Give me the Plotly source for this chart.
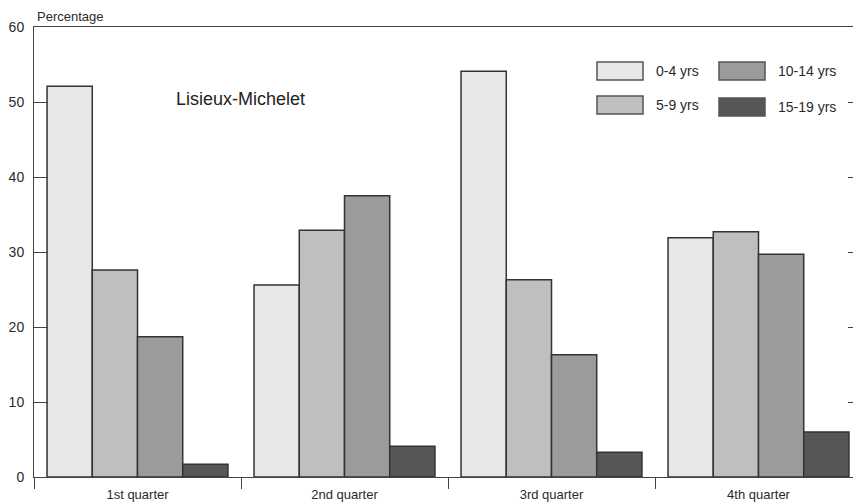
import plotly.graph_objects as go

categories = ["1st quarter", "2nd quarter", "3rd quarter", "4th quarter"]
series_names = ["0-4 yrs", "5-9 yrs", "10-14 yrs", "15-19 yrs"]
values_0_4 = [52.1, 25.6, 54.1, 31.9]
values_5_9 = [27.6, 32.9, 26.3, 32.7]
values_10_14 = [18.7, 37.5, 16.3, 29.7]
values_15_19 = [1.7, 4.1, 3.3, 6.0]
colors = ["#e8e8e8", "#bfbfbf", "#9b9b9b", "#565656"]
y_ticks = [0, 10, 20, 30, 40, 50, 60]

FONT = "Liberation Sans, Arial, sans-serif"
all_values = [values_0_4, values_5_9, values_10_14, values_15_19]

fig = go.Figure()
for name, vals, col in zip(series_names, all_values, colors):
    fig.add_trace(go.Bar(
        x=categories, y=vals, name=name, showlegend=False,
        marker=dict(color=col, line=dict(color="#333333", width=1.5)),
    ))

# second y axis for short right-side ticks
fig.add_trace(go.Scatter(x=[categories[0]], y=[0], yaxis="y2", mode="markers",
                         marker=dict(opacity=0), showlegend=False, hoverinfo="skip"))

fig.update_layout(
    width=853, height=504,
    margin=dict(l=34, r=0, t=27, b=27),
    paper_bgcolor="white", plot_bgcolor="white",
    barmode="group", bargap=0.126, bargroupgap=0,
    font=dict(family=FONT, size=13, color="#2a2a2a"),
    xaxis=dict(
        type="category", range=[-0.5, -0.5 + 819 / 207],
        showline=True, linecolor="#444444", linewidth=1, mirror=True,
        ticks="outside", tickson="boundaries", ticklen=11, tickcolor="#444444",
        showgrid=False, ticklabelstandoff=5,
        tickfont=dict(size=13, family=FONT, color="#2a2a2a"),
    ),
    yaxis=dict(
        range=[0, 60], tickvals=y_ticks, showline=True, linecolor="#444444",
        linewidth=1, ticks="inside", ticklen=14, tickcolor="#444444",
        showgrid=False, zeroline=False, ticklabelstandoff=6,
        tickfont=dict(size=14, family=FONT, color="#2a2a2a"),
    ),
    yaxis2=dict(
        range=[0, 60], tickvals=y_ticks, overlaying="y", side="right",
        showline=False, ticks="inside", ticklen=5, tickcolor="#444444",
        showticklabels=False, showgrid=False, zeroline=False,
    ),
)

# titles / labels
fig.add_annotation(text="Percentage", xref="paper", yref="paper", x=0.0015, y=1.0,
                   xanchor="left", yanchor="bottom", showarrow=False, yshift=1,
                   font=dict(size=13, family=FONT, color="#2a2a2a"))
fig.add_annotation(text="Lisieux-Michelet", xref="paper", yref="paper",
                   x=(174 - 34) / 819, y=(477 - 99) / 450,
                   xanchor="left", yanchor="middle", showarrow=False,
                   font=dict(size=18, family=FONT, color="#222222"))

# custom legend
legend_pos = [(597, 71), (597, 105), (719, 71), (719, 107)]
for (lx, ly), name, col in zip(legend_pos, series_names, colors):
    fig.add_shape(type="rect", xref="paper", yref="paper",
                  x0=(lx - 34) / 819, x1=(lx + 46 - 34) / 819,
                  y0=(477 - (ly - 9)) / 450, y1=(477 - (ly + 9)) / 450,
                  fillcolor=col, line=dict(color="#555555", width=1.5))
    fig.add_annotation(text=name, xref="paper", yref="paper",
                       x=(lx + 57 - 34) / 819, y=(477 - ly) / 450,
                       xanchor="left", yanchor="middle", showarrow=False,
                       font=dict(size=14, family=FONT, color="#2a2a2a"))

fig.write_html(
    "out.html",
    config={"displayModeBar": False},
    post_script="document.body.style.margin='0px';document.body.style.overflow='hidden';",
)
